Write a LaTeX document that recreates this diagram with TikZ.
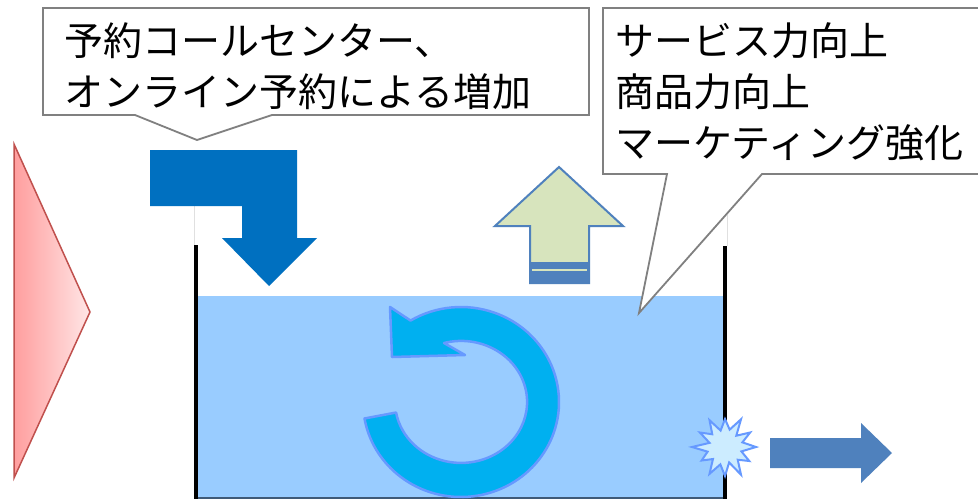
\documentclass[tikz,border=0pt]{standalone}
\usepackage{fontspec}
\setmainfont{Noto Sans CJK JP}
\definecolor{callout-edge}{HTML}{808080}
\definecolor{inflow-blue}{HTML}{0070C0}
\definecolor{water-fill}{HTML}{99CCFF}
\definecolor{swirl-fill}{HTML}{00B0F0}
\definecolor{swirl-edge}{HTML}{6699FF}
\definecolor{lift-fill}{HTML}{D7E4BD}
\definecolor{lift-edge}{HTML}{4F81BD}
\definecolor{push-dark}{HTML}{FF9E9E}
\definecolor{push-light}{HTML}{FFE6E6}
\definecolor{push-edge}{HTML}{C0504D}
\definecolor{leak-fill}{HTML}{CCECFF}
\definecolor{tank-floor}{HTML}{3F5A78}
\tikzset{callout-box/.style={fill=white,draw=callout-edge,line width=1.8pt,line join=miter},
  callout-text/.style={anchor=west,align=left,inner sep=0pt}}

\begin{document}
\begin{tikzpicture}[x=1pt,y=-1pt,font=\fontsize{39}{51}\selectfont]
\clip (0,0) rectangle (978,499);
\path[fill=white,draw=none] (0,0) rectangle (978,499);
\path[left color=push-dark,right color=push-light,draw=push-edge,line width=1.5pt] (14,144) -- (90,312) -- (14,478) -- cycle;
\path[fill=water-fill,draw=none] (198,296) rectangle (723,497);
\path[draw=tank-floor,line width=2pt] (196,498) -- (725,498);
\path[draw=black!12,line width=0.8pt] (194,206) -- (194,245);
\path[draw=black!12,line width=0.8pt] (727,215) -- (727,246);
\path[draw=black,line width=4pt] (196,245) -- (196,499);
\path[draw=black,line width=4pt] (725,246) -- (725,499);
\path[fill=inflow-blue,draw=none] (150,150) -- (297,150) -- (297,238) -- (317,238) -- (269,286) -- (222,238) -- (242,238) -- (242,206) -- (150,206) -- cycle;
\path[fill=lift-fill,draw=lift-edge,line width=2pt] (559,167) -- (623,226) -- (589,226) -- (589,283) -- (530,283) -- (530,226) -- (495,226) -- cycle;
\path[fill=lift-edge,draw=none] (530,262) rectangle (589,283);
\path[draw=lift-fill,line width=2.5pt] (532,270) -- (587,270);
\begin{scope}[shift={(461,402)},y=1pt]
\path[fill=swirl-fill,draw=swirl-edge,line width=2.5pt,line join=round] (190:98 and 95) arc[start angle=190,end angle=481,x radius=98,y radius=95] -- (-71,95) -- (-69,45) -- (4,47) -- (-17,59) arc[start angle=465,end angle=190,x radius=66,y radius=61] -- cycle;
\end{scope}
\begin{scope}[shift={(725,447)}]
\path[fill=leak-fill,draw=swirl-edge,line width=2pt,line join=miter] (0:31) \foreach \a/\r in {15/17,30/28,45/18,60/32,75/16,90/29,105/18,120/31,135/17,150/27,165/18,180/33,195/16,210/29,225/18,240/31,255/17,270/28,285/18,300/32,315/16,330/29,345/18} { -- (\a:\r) } -- cycle;
\end{scope}
\path[fill=lift-edge,draw=none] (770,438) -- (861,438) -- (861,423) -- (892,453) -- (861,483) -- (861,468) -- (770,468) -- cycle;
\path[callout-box] (43,8) -- (589,8) -- (589,115) -- (272,115) -- (197,140) -- (135,115) -- (43,115) -- cycle;
\path[callout-box] (603,8) -- (990,8) -- (990,174) -- (762,174) -- (639,313) -- (667,174) -- (603,174) -- cycle;
\node[callout-text] (callout-text-0) at (64,66) {予約コールセンター、\\オンライン予約による増加};
\node[callout-text] (callout-text-1) at (615,92) {サービス力向上\\商品力向上\\マーケティング強化};
\end{tikzpicture}
\end{document}
